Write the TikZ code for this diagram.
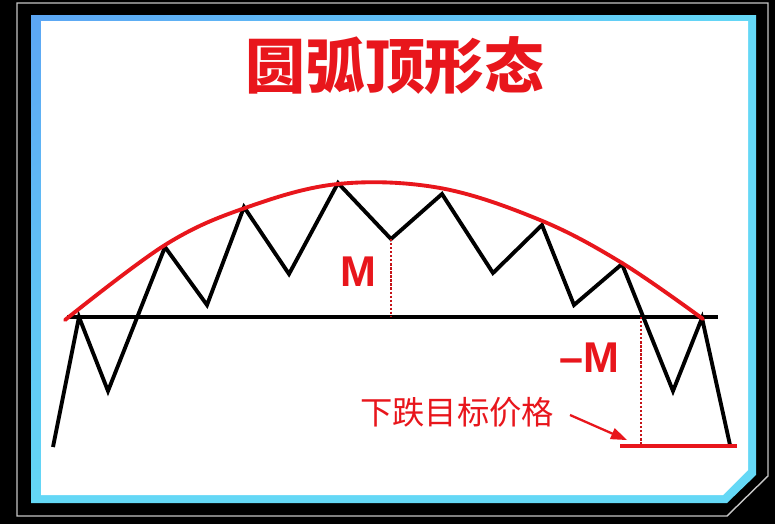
\documentclass[tikz,border=0pt]{standalone}
\usepackage{fontspec}
\setmainfont{Liberation Sans}
\newfontfamily\cjk{Noto Sans CJK SC}
\usetikzlibrary{shadings}

\definecolor{arcred}{RGB}{232,22,28}
\definecolor{frameblue}{RGB}{92,166,244}
\definecolor{framecyan}{RGB}{100,216,246}

\begin{document}
\begin{tikzpicture}[
x=0.02cm, y=-0.02cm,
title/.style={
text=arcred,
inner sep=0pt,
font=\cjk\bfseries\fontsize{34}{36}\selectfont
},
mtext/.style={
text=arcred,
inner sep=0pt,
font=\bfseries\fontsize{24.5}{26}\selectfont
},
tgttext/.style={
text=arcred,
inner sep=0pt,
font=\cjk\fontsize{18.4}{20}\selectfont
},
price/.style={line width=2.2pt, black},
neck/.style={line width=1.8pt, black},
arcline/.style={line width=2.2pt, arcred, line cap=round},
measure/.style={line width=1.3pt, arcred!85!black, densely dotted}
]

\useasboundingbox (0,0) rectangle (775,524);

% screen frame
\fill[black] (0,0) rectangle (775,524);
\draw[gray!45, line width=0.8pt] (17,3) -- (768,3) -- (768,476) -- (727,516) -- (17,516) -- cycle;
\shade[upper left=frameblue, upper right=framecyan, lower left=framecyan, lower right=framecyan]
(31,15) -- (756,15) -- (756,475) -- (727,503) -- (31,503) -- cycle;
\fill[white] (41,21) -- (748,21) -- (748,470) -- (723,495) -- (41,495) -- cycle;

\node[title] (title) at (395,66) {圆弧顶形态};

% price path
\foreach \n/\px/\py in {0/53/447, 1/79/317, 2/108/391, 3/165/247, 4/207/305,
5/244/207, 6/289/274, 7/338/183, 8/391/239, 9/442/194, 10/493/273,
11/542/225, 12/574/305, 13/622/264, 14/673/391, 15/702/318, 16/730/445}
\coordinate (p\n) at (\px,\py);

% neckline
\coordinate (neckL) at (67,317);
\coordinate (neckR) at (718,317);
\draw[neck] (neckL) -- (neckR);

\draw[price] (p0) \foreach \i in {1,...,16} {-- (p\i)};

% rounding top
\draw[arcline] plot[smooth, tension=0.6] coordinates
{(65,320) (165,245) (245,208) (338,184) (440,188) (540,220) (622,263) (703,319)};

% height M and its projection
\coordinate (brk) at (641,317);
\coordinate (tgt) at (641,446);
\coordinate (tgtL) at (620,446);
\coordinate (tgtR) at (737,446);
\draw[measure] (p8) -- (p8 |- neckL);
\draw[measure] (brk) -- (tgt);
\draw[arcred, line width=2.2pt] (tgtL) -- (tgtR);

\node[mtext] (m) at (358,272) {M};
\node[mtext] (negm) at (589,358) {–M};
\node[tgttext] (tgtlabel) at (457,412) {下跌目标价格};

% arrow to target price
\coordinate (arrtail) at (570,415);
\coordinate (arrtip) at (627,440);
\draw[arcred, line width=1.3pt] (arrtail) -- ([shift={(-11,-4.8)}]arrtip);
\fill[arcred] (arrtip) -- ++(-17.1,-0.9) -- ++(4.8,-11) -- cycle;

\end{tikzpicture}
\end{document}
